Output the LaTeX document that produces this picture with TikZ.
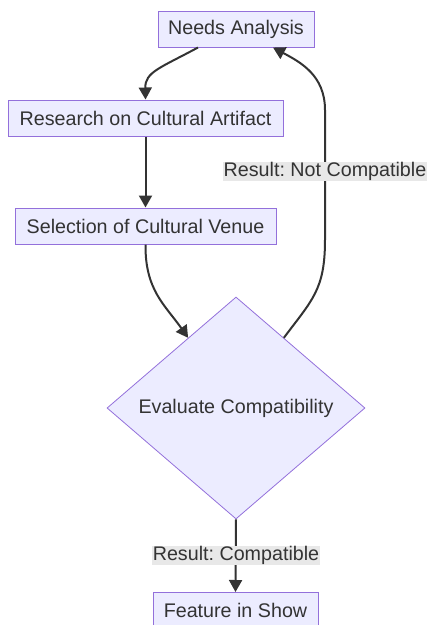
\documentclass[tikz,border=0pt]{standalone}
\usepackage{fontspec}
\setmainfont{Liberation Sans}
\usetikzlibrary{shapes.geometric,arrows.meta,calc}

\definecolor{nodefill}{HTML}{ECECFF}
\definecolor{nodeline}{HTML}{9370DB}
\definecolor{ink}{HTML}{333333}
\definecolor{labelbg}{HTML}{E8E8E8}

\tikzset{
  base/.style={font=\fontsize{19.7}{23.6}\selectfont\frenchspacing, text=ink},
  procbox/.style={base, draw=nodeline, fill=nodefill, line width=1pt,
    rectangle, minimum height=36pt, inner sep=0pt},
  decision/.style={base, draw=nodeline, fill=nodefill, line width=0.8pt,
    diamond, aspect=1, inner sep=0pt, minimum width=258pt, minimum height=222pt},
  flow/.style={draw=ink, line width=2pt,
    -{Triangle[length=12pt,width=13pt]}},
  edgelabel/.style={base, fill=labelbg, inner xsep=1pt, inner ysep=0pt,
    text height=14.5pt, text depth=4.5pt}
}

\begin{document}
\begin{tikzpicture}[x=1pt,y=-1pt]
  \useasboundingbox (0,0) rectangle (428,625);

  % process steps
  \node[procbox, minimum width=156pt] (na) at (236,29) {Needs Analysis};
  \node[procbox, minimum width=275pt] (ra) at (145.5,118) {Research on Cultural Artifact};
  \node[procbox, minimum width=261pt] (sv) at (145.5,226) {Selection of Cultural Venue};
  \node[decision] (ev) at (236,408) {Evaluate Compatibility};
  \node[procbox, minimum width=165pt] (fs) at (235.5,610.5) {Feature in Show};

  % connectors
  \draw[flow] ($(na.south)+(-38,0)$) .. controls (160,68) and (145,72) .. (ra.north);
  \draw[flow] (ra.south) -- (sv.north);
  \draw[flow] (sv.south) .. controls (145,290) and (165,305) .. ($(ev.north)!0.37!(ev.west)$);
  \draw[flow] ($(ev.north)!0.37!(ev.east)$) .. controls (312,300) and (325,290) .. (325,240)
     -- (325,110) .. controls (325,75) and (300,62) .. ($(na.south)+(37,0)$);
  \draw[flow] (ev.south) -- (fs.north);

  % edge labels
  \node[edgelabel] (lnc) at (325,171) {Result: Not Compatible};
  \node[edgelabel] (lc) at (236,555) {Result: Compatible};
\end{tikzpicture}
\end{document}
